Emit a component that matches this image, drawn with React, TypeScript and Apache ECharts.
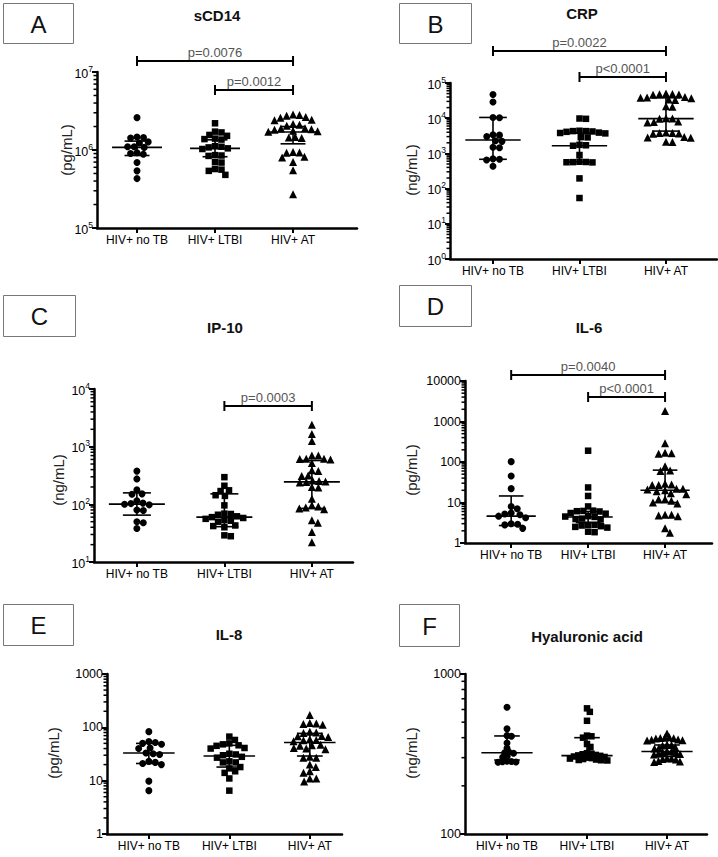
import React, { useEffect, useRef } from 'react';
import * as echarts from 'echarts';

const FONT = 'Liberation Sans, Arial, Helvetica, sans-serif';

const groups = ['HIV+ no TB', 'HIV+ LTBI', 'HIV+ AT'];
const panelLetters = ['A', 'B', 'C', 'D', 'E', 'F'];
const panelTitles = ['sCD14', 'CRP', 'IP-10', 'IL-6', 'IL-8', 'Hyaluronic acid'];
const unitLabels = ['(pg/mL)', '(ng/mL)', '(ng/mL)', '(pg/mL)', '(pg/mL)', '(ng/mL)'];

// ---- A: sCD14 (pg/mL)
const sCD14NoTB = [2.6e6, 1.47e6, 1.45e6, 1.42e6, 1.27e6, 1.23e6, 1.1e6, 1.1e6, 1.08e6, 0.92e6, 0.9e6, 0.88e6, 0.69e6, 0.54e6, 0.43e6];
const sCD14LTBI = [2.2e6, 1.72e6, 1.68e6, 1.56e6, 1.52e6, 1.4e6, 1.38e6, 1.36e6, 1.12e6, 1.1e6, 1.08e6, 1.05e6, 1.03e6, 0.86e6, 0.85e6, 0.84e6, 0.7e6, 0.69e6, 0.57e6, 0.56e6, 0.54e6, 0.48e6];
const sCD14AT = [2.85e6, 2.8e6, 2.75e6, 2.65e6, 2.6e6, 2.45e6, 2.4e6, 2.15e6, 2.1e6, 2.05e6, 1.9e6, 1.88e6, 1.85e6, 1.82e6, 1.76e6, 1.74e6, 1.72e6, 1.47e6, 1.45e6, 1.43e6, 0.94e6, 0.93e6, 0.92e6, 0.82e6, 0.8e6, 0.7e6, 0.55e6, 0.27e6];
const sCD14Median = [1.08e6, 1.05e6, 1.7e6];
const sCD14Low = [0.85e6, 0.82e6, 1.2e6];
const sCD14High = [1.3e6, 1.35e6, 2.0e6];
const sCD14Tests = [{ from: 0, to: 2, label: 'p=0.0076' }, { from: 1, to: 2, label: 'p=0.0012' }];

// ---- B: CRP (ng/mL)
const crpNoTB = [47000, 29000, 10500, 10300, 3400, 3300, 3000, 2300, 2200, 1500, 1450, 700, 680, 650, 430];
const crpLTBI = [9800, 9600, 4400, 4300, 4300, 4200, 4100, 3900, 3800, 3700, 2900, 2850, 1750, 1700, 1650, 900, 580, 570, 565, 560, 555, 195, 54];
const crpAT = [50000, 49000, 48000, 47000, 46000, 40000, 39000, 38000, 37000, 34000, 33000, 22000, 21000, 9900, 9800, 9700, 8000, 7800, 7600, 3900, 3800, 3800, 3700, 3600, 2900, 2850, 2800, 2150, 2100];
const crpMedian = [2400, 1650, 9700];
const crpLow = [680, 570, 4300];
const crpHigh = [10500, 3800, 38000];
const crpTests = [{ from: 0, to: 2, label: 'p=0.0022' }, { from: 1, to: 2, label: 'p<0.0001' }];

// ---- C: IP-10 (ng/mL)
const ip10NoTB = [377, 276, 178, 152, 150, 115, 105, 103, 100, 98, 80, 78, 50, 48, 38];
const ip10LTBI = [296, 210, 175, 170, 144, 140, 96, 69, 68, 66, 62, 60, 58, 56, 53, 52, 50, 43, 42, 40, 29, 28];
const ip10AT = [2400, 1660, 1250, 705, 700, 620, 615, 610, 600, 520, 390, 380, 315, 310, 260, 255, 250, 245, 240, 200, 195, 125, 96, 92, 88, 85, 82, 53, 48, 33, 22];
const ip10Median = [101, 60, 245];
const ip10Low = [65, 41, 85];
const ip10High = [158, 152, 575];
const ip10Tests = [{ from: 1, to: 2, label: 'p=0.0003' }];

// ---- D: IL-6 (pg/mL)
const il6NoTB = [102, 45, 22, 8, 7, 5.5, 5.2, 5.0, 4.6, 4.2, 3.0, 2.9, 2.8, 2.3];
const il6LTBI = [190, 23.5, 14.5, 8, 6.3, 6.2, 6.1, 6.0, 5.5, 5.3, 4.6, 4.5, 4.4, 4.0, 3.9, 3.8, 2.8, 2.8, 2.7, 2.6, 2.5, 2.4, 1.9, 1.85];
const il6AT = [1820, 290, 170, 165, 160, 78, 62, 60, 29, 28, 27, 27, 22, 22, 21, 20, 19, 17, 16, 12, 12, 11, 10, 9.5, 5, 5, 4.8, 4.6, 2.3, 1.8];
const il6Median = [4.6, 4.4, 20];
const il6Low = [2.7, 3.2, 10];
const il6High = [14.5, 6, 63];
const il6Tests = [{ from: 0, to: 2, label: 'p=0.0040' }, { from: 1, to: 2, label: 'p<0.0001' }];

// ---- E: IL-8 (pg/mL)
const il8NoTB = [83, 54, 52, 50, 48, 41, 40, 33, 32, 31, 23, 22, 21, 20, 9.8, 6.5];
const il8LTBI = [67, 58, 50, 48, 46, 45, 41, 40, 32, 31, 30, 28, 27, 23, 22, 22, 18, 17, 15, 14, 11, 6.5];
const il8AT = [170, 120, 118, 115, 112, 83, 80, 78, 69, 68, 66, 60, 58, 57, 55, 47, 46, 45, 41, 40, 39, 28, 27, 27, 20, 18, 15, 14, 11, 11, 9.6];
const il8Median = [33, 29, 52];
const il8Low = [21, 18, 29];
const il8High = [50, 46, 77];

// ---- F: Hyaluronic acid (ng/mL)
const haNoTB = [619, 454, 412, 408, 370, 343, 324, 322, 320, 305, 302, 285, 284, 283, 282, 281];
const haLTBI = [610, 580, 510, 412, 408, 400, 365, 350, 320, 318, 315, 312, 310, 308, 305, 303, 300, 298, 296, 294, 292, 290, 289, 288];
const haAT = [425, 402, 400, 398, 396, 395, 390, 388, 386, 384, 362, 360, 358, 348, 345, 342, 330, 328, 326, 324, 318, 316, 314, 298, 296, 294, 292, 286, 284, 282];
const haMedian = [322, 309, 328];
const haLow = [290, 304, 305];
const haHigh = [410, 400, 360];

const panelData = [
  { sets: [sCD14NoTB, sCD14LTBI, sCD14AT], med: sCD14Median, lo: sCD14Low, hi: sCD14High, tests: sCD14Tests },
  { sets: [crpNoTB, crpLTBI, crpAT], med: crpMedian, lo: crpLow, hi: crpHigh, tests: crpTests },
  { sets: [ip10NoTB, ip10LTBI, ip10AT], med: ip10Median, lo: ip10Low, hi: ip10High, tests: ip10Tests },
  { sets: [il6NoTB, il6LTBI, il6AT], med: il6Median, lo: il6Low, hi: il6High, tests: il6Tests },
  { sets: [il8NoTB, il8LTBI, il8AT], med: il8Median, lo: il8Low, hi: il8High, tests: [] as any[] },
  { sets: [haNoTB, haLTBI, haAT], med: haMedian, lo: haLow, hi: haHigh, tests: [] as any[] },
];

// ---- layout (pixels / axis ranges)
const layouts = [
  { left: 97, top: 72, right: 357, bottom: 228, xMin: -0.513, xMax: 2.82, yMin: 1e5, yMax: 1e7, sup: true, spread: 6.5,
    box: [3, 3, 70, 40], titleX: 217, titleY: 15, unitX: 66, unitY: 150, bracketY: [61, 90] },
  { left: 450, top: 83, right: 717, bottom: 259, xMin: -0.497, xMax: 2.59, yMin: 1, yMax: 1e5, sup: true, spread: 6.5,
    box: [399, 3, 72, 40], titleX: 582, titleY: 13, unitX: 411, unitY: 170, bracketY: [51, 77] },
  { left: 94, top: 389, right: 353, bottom: 562, xMin: -0.49, xMax: 2.47, yMin: 10, yMax: 1e4, sup: true, spread: 6.5,
    box: [3, 295, 72, 41], titleX: 225, titleY: 327, unitX: 58, unitY: 480, bracketY: [406] },
  { left: 465, top: 381, right: 712, bottom: 543, xMin: -0.6, xMax: 2.61, yMin: 1, yMax: 1e4, sup: false, spread: 6.5,
    box: [399, 285, 72, 41], titleX: 589, titleY: 327, unitX: 411, unitY: 470, bracketY: [375, 397] },
  { left: 107, top: 674, right: 342, bottom: 834, xMin: -0.52, xMax: 2.4, yMin: 1, yMax: 1e3, sup: false, spread: 6.5,
    box: [3, 604, 70, 41], titleX: 229, titleY: 634, unitX: 53, unitY: 753, bracketY: [] },
  { left: 465, top: 674, right: 707, bottom: 834, xMin: -0.525, xMax: 2.5, yMin: 100, yMax: 1e3, sup: false, spread: 4.5,
    box: [399, 604, 60, 42], titleX: 587, titleY: 636, unitX: 411, unitY: 753, bracketY: [] },
];

const symbols = ['circle', 'rect', 'triangle'];
const symbolSizes = [7, 6.5, 8];

function swarm(values: number[], g: number, pxPerLog: number, pxPerX: number, diam: number) {
  const placed: { x: number; y: number }[] = [];
  const sorted = [...values].sort((a, b) => b - a);
  return sorted.map((v) => {
    const y = Math.log10(v) * pxPerLog;
    const cands = [0];
    for (const p of placed) {
      const dy = Math.abs(p.y - y);
      if (dy < diam) {
        const dx = Math.sqrt(diam * diam - dy * dy);
        cands.push(p.x + dx, p.x - dx);
      }
    }
    cands.sort((a, b) => Math.abs(a) - Math.abs(b));
    let x = cands[0];
    for (const c of cands) {
      if (placed.every((p) => (p.x - c) ** 2 + (p.y - y) ** 2 >= diam * diam - 0.01)) {
        x = c;
        break;
      }
    }
    placed.push({ x, y });
    return [g + x / pxPerX, v];
  });
}

function minorValues(yMin: number, yMax: number) {
  const out: number[] = [];
  const e0 = Math.round(Math.log10(yMin));
  const e1 = Math.round(Math.log10(yMax));
  for (let e = e0; e < e1; e++) {
    for (let k = 2; k <= 9; k++) out.push(k * Math.pow(10, e));
  }
  return out;
}

function buildOption() {
  const grid: any[] = [];
  const xAxis: any[] = [];
  const yAxis: any[] = [];
  const series: any[] = [];
  const graphic: any[] = [];

  layouts.forEach((L, i) => {
    const D = panelData[i];
    grid.push({ left: L.left, top: L.top, width: L.right - L.left, height: L.bottom - L.top });
    xAxis.push({
      gridIndex: i, type: 'value', min: L.xMin, max: L.xMax,
      axisLine: { show: true, onZero: false, lineStyle: { color: '#000', width: 2.5 } },
      axisTick: { show: true, customValues: [0, 1, 2], length: 5, lineStyle: { color: '#000', width: 2 } },
      axisLabel: { customValues: [0, 1, 2], formatter: (v: number) => groups[Math.round(v)], color: '#000', fontSize: 12, fontFamily: FONT, margin: 6 },
      splitLine: { show: false },
    });
    yAxis.push({
      gridIndex: i, type: 'log', logBase: 10, min: L.yMin, max: L.yMax,
      axisLine: { show: true, onZero: false, lineStyle: { color: '#000', width: 2.5 } },
      axisTick: { show: true, length: 5, lineStyle: { color: '#000', width: 2 } },
      axisLabel: {
        color: '#000', fontSize: 12.5, fontFamily: FONT, margin: 4,
        formatter: (v: number) => {
          const e = Math.round(Math.log10(v));
          return L.sup ? `{base|10}{sup|${e}}` : String(Math.round(v));
        },
        rich: {
          base: { fontSize: 12.5, fontFamily: FONT, color: '#000', verticalAlign: 'bottom', lineHeight: 16 },
          sup: { fontSize: 8.5, fontFamily: FONT, color: '#000', verticalAlign: 'top', lineHeight: 16 },
        },
      },
      splitLine: { show: false },
    });

    const pxPerLog = (L.bottom - L.top) / (Math.log10(L.yMax) - Math.log10(L.yMin));
    const pxPerX = (L.right - L.left) / (L.xMax - L.xMin);

    // minor ticks
    series.push({
      type: 'custom', xAxisIndex: i, yAxisIndex: i, clip: false, silent: true,
      data: minorValues(L.yMin, L.yMax).map((v) => [L.xMin, v]),
      renderItem: (params: any, api: any) => {
        const p = api.coord([api.value(0), api.value(1)]);
        return { type: 'line', shape: { x1: p[0] - 3.5, y1: p[1], x2: p[0], y2: p[1] }, style: { stroke: '#000', lineWidth: 1.5 } };
      },
    });

    // scatter points
    D.sets.forEach((vals, g) => {
      series.push({
        type: 'scatter', xAxisIndex: i, yAxisIndex: i, symbol: symbols[g], symbolSize: symbolSizes[g],
        itemStyle: { color: '#000', opacity: 1 }, z: 3,
        data: swarm(vals, g, pxPerLog, pxPerX, L.spread),
      });
    });

    // median + error bars
    series.push({
      type: 'custom', xAxisIndex: i, yAxisIndex: i, clip: false, z: 4, silent: true,
      data: [0, 1, 2].map((g) => [g, D.med[g], D.lo[g], D.hi[g]]),
      encode: { x: 0, y: [1, 2, 3] },
      renderItem: (params: any, api: any) => {
        const g = api.value(0);
        const m = api.value(1), lo = api.value(2), hi = api.value(3);
        const xl = api.coord([g - 0.32, m])[0];
        const xr = api.coord([g + 0.32, m])[0];
        const cl = api.coord([g - 0.16, m])[0];
        const cr = api.coord([g + 0.16, m])[0];
        const pm = api.coord([g, m]);
        const pl = api.coord([g, lo]);
        const ph = api.coord([g, hi]);
        const st = { stroke: '#000', lineWidth: 1.6 };
        return {
          type: 'group',
          children: [
            { type: 'line', shape: { x1: xl, y1: pm[1], x2: xr, y2: pm[1] }, style: st },
            { type: 'line', shape: { x1: pm[0], y1: pl[1], x2: pm[0], y2: ph[1] }, style: st },
            { type: 'line', shape: { x1: cl, y1: pl[1], x2: cr, y2: pl[1] }, style: st },
            { type: 'line', shape: { x1: cl, y1: ph[1], x2: cr, y2: ph[1] }, style: st },
          ],
        };
      },
    });

    // significance brackets
    if (D.tests.length) {
      series.push({
        type: 'custom', xAxisIndex: i, yAxisIndex: i, clip: false, z: 4, silent: true,
        data: D.tests.map((t: any) => [t.from, L.yMax, t.to]),
        encode: { x: [0, 2], y: 1 },
        renderItem: (params: any, api: any) => {
          const t = D.tests[params.dataIndex];
          const y = L.bracketY[params.dataIndex];
          const x1 = api.coord([api.value(0), L.yMax])[0];
          const x2 = api.coord([api.value(2), L.yMax])[0];
          const st = { stroke: '#000', lineWidth: 2 };
          return {
            type: 'group',
            children: [
              { type: 'line', shape: { x1, y1: y, x2, y2: y }, style: st },
              { type: 'line', shape: { x1, y1: y - 5, x2: x1, y2: y + 5 }, style: st },
              { type: 'line', shape: { x1: x2, y1: y - 5, x2, y2: y + 5 }, style: st },
              { type: 'text', x: (x1 + x2) / 2, y: y - 2, style: { text: t.label, align: 'center', verticalAlign: 'bottom', fontSize: 13, fontFamily: FONT, fill: '#555' } },
            ],
          };
        },
      });
    }

    // letter box, title, unit label
    graphic.push({
      type: 'rect', shape: { x: L.box[0] + 0.5, y: L.box[1] + 0.5, width: L.box[2], height: L.box[3] },
      style: { fill: '#fff', stroke: '#777', lineWidth: 1 },
    });
    graphic.push({
      type: 'text', x: L.box[0] + L.box[2] / 2 + 0.5, y: L.box[1] + L.box[3] / 2 + 1,
      style: { text: panelLetters[i], align: 'center', verticalAlign: 'middle', fontSize: 24, fontFamily: FONT, fill: '#111' },
    });
    graphic.push({
      type: 'text', x: L.titleX, y: L.titleY,
      style: { text: panelTitles[i], align: 'center', verticalAlign: 'middle', fontSize: 15, fontWeight: 'bold', fontFamily: FONT, fill: '#111' },
    });
    graphic.push({
      type: 'text', x: L.unitX, y: L.unitY, rotation: Math.PI / 2,
      style: { text: unitLabels[i], align: 'center', verticalAlign: 'middle', fontSize: 15, fontFamily: FONT, fill: '#222' },
    });
  });

  return { animation: false, backgroundColor: '#fff', grid, xAxis, yAxis, series, graphic };
}

export default function App() {
  const ref = useRef<HTMLDivElement>(null);
  useEffect(() => {
    if (!ref.current) return;
    const chart = echarts.init(ref.current, undefined, { renderer: 'svg' });
    chart.setOption(buildOption() as any);
    return () => chart.dispose();
  }, []);
  return <div ref={ref} style={{ position: 'absolute', left: 0, top: 0, width: 718, height: 857 }} />;
}
